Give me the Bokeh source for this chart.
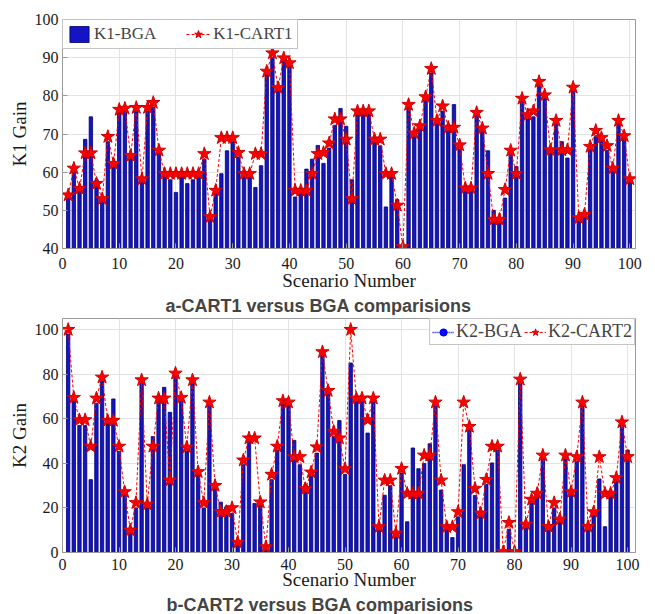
from bokeh.plotting import figure
from bokeh.models import ColumnDataSource, FixedTicker, Legend, LegendItem, Title, Range1d
from bokeh.layouts import column
from bokeh.embed import file_html
from bokeh.resources import INLINE

scenario = list(range(1, 101))

k1_bga = [53.5, 60, 56, 68.6, 74.5, 58, 53, 68, 62, 76,
          76, 64, 77, 58, 76, 77, 65, 59, 58, 54.7,
          59, 57, 58, 59, 63.4, 48, 55, 59.6, 65.6, 68,
          64, 59, 59, 56, 61.7, 86, 90, 82, 89, 88,
          53.5, 55, 60.8, 63.4, 67, 62.3, 66.3, 72.3, 76.7, 72,
          58, 76, 76, 76, 68, 66.9, 50.9, 59, 52.8, 40,
          77, 69.3, 71.5, 78.9, 86, 73, 76, 71, 77.7, 66,
          55, 55, 75, 70.7, 65.6, 50, 47, 53.2, 65, 61.5,
          79, 74, 74.5, 83, 80, 65, 73, 68, 63.7, 82,
          48, 48.5, 66, 69.3, 68.5, 65.7, 60.5, 73, 69, 58]

k1_cart1 = [54, 61, 55.7, 65, 65, 57, 53, 69.3, 62.2, 76.4,
            76.7, 64.3, 76.9, 58.2, 76.9, 78.2, 65.7, 59.6, 59.6, 59.6,
            59.6, 59.6, 59.6, 59.6, 64.8, 48.3, 55.2, 69, 69, 69,
            65.1, 59.6, 59.6, 64.8, 64.8, 86.4, 91.2, 82.1, 89.9, 88.6,
            55.2, 55.2, 55.2, 59.6, 64.8, 65.1, 67.6, 73.9, 73.9, 68.6,
            53, 76, 76, 76, 68.6, 68.6, 59.6, 59.6, 51.3, 40.4,
            77.7, 70.2, 72.1, 79.7, 87.1, 73.5, 77.3, 71.7, 71.7, 67.1,
            55.8, 55.8, 75.6, 71.5, 59.6, 47.6, 47.6, 55.4, 65.7, 59.6,
            79.3, 75, 76, 83.7, 80.2, 65.8, 73.5, 65.8, 65.8, 82.2,
            48, 48.9, 66.7, 70.9, 69, 66.9, 61, 73.5, 69.5, 58.2]

k2_bga = [98, 68, 57, 57, 32.7, 67, 77, 58, 68.9, 45.4,
          26, 9, 20, 76, 20, 52, 68, 74.1, 62.9, 79,
          68, 45.4, 76, 35, 20, 67, 29, 22.6, 20.5, 17.6,
          4, 39.4, 49.9, 22, 22, 2, 32.7, 45.8, 67, 67,
          50.3, 39.4, 30.5, 34.2, 44.6, 89, 72, 52, 59.2, 35,
          85, 68, 68, 53.6, 68, 10, 25.7, 30, 8, 35.7,
          13.8, 46.9, 37.6, 39.9, 48.8, 66, 28, 11, 6.7, 16,
          39.4, 55, 25.6, 16, 30.5, 40.2, 46, 0, 10.4, 0,
          76, 11, 22.3, 25, 42, 10, 20, 14, 42, 26,
          41, 66, 10, 17, 33, 11.6, 25, 32, 57, 46]

k2_cart2 = [100, 69.5, 59.5, 59.5, 47.6, 69.2, 78.6, 59.2, 59.2, 47.6,
            27.2, 10, 22.3, 77.4, 21.6, 47.6, 69.2, 69.2, 32.4, 80.4,
            69.5, 47.2, 77.4, 36.2, 22.3, 67.4, 30, 18.3, 18.3, 20,
            4.5, 41.4, 51.3, 51.3, 22.6, 2.5, 35, 47.6, 68, 67.4,
            42.9, 42.9, 28.6, 36, 47.3, 90, 72.6, 54.3, 51.3, 37.5,
            100, 69.2, 69.2, 59.5, 69.2, 11.5, 32.4, 32.4, 8.6, 37.6,
            26.5, 26.5, 26.5, 43.6, 43.6, 67.4, 32.4, 11.5, 11.5, 18.2,
            67.4, 56.5, 28.7, 17.6, 32.7, 47.6, 47.6, 0.3, 13.4, 0.3,
            77.7, 12.6, 23.8, 26.5, 43.6, 11.6, 22.3, 14.9, 43.6, 27.2,
            42.9, 67.4, 11.6, 18.2, 42.9, 26.5, 26.5, 33.5, 58.5, 42.9]

x_ticks = [0, 10, 20, 30, 40, 50, 60, 70, 80, 90, 100]
y1_ticks = [40, 50, 60, 70, 80, 90, 100]
y2_ticks = [0, 20, 40, 60, 80, 100]

SERIF = "Liberation Serif"
BAR_FILL = "#1414c4"
BAR_LINE = "#00006e"
NAN = float("nan")


def style(p, yticks, ylabel, tick_standoff, label_standoff):
    p.xaxis.ticker = FixedTicker(ticks=x_ticks)
    p.yaxis.ticker = FixedTicker(ticks=yticks)
    p.xgrid.ticker = FixedTicker(ticks=x_ticks)
    p.ygrid.ticker = FixedTicker(ticks=yticks)
    p.grid.grid_line_color = "#e3e3e3"
    p.grid.grid_line_width = 1
    for ax in p.axis:
        ax.axis_line_color = "#9a9a9a"
        ax.major_tick_line_color = "#9a9a9a"
        ax.major_tick_in = 5
        ax.major_tick_out = 0
        ax.minor_tick_line_color = None
        ax.major_label_text_font = SERIF
        ax.major_label_text_font_size = "16px"
        ax.major_label_text_color = "#1a1a1a"
        ax.axis_label_text_font = SERIF
        ax.axis_label_text_font_size = "19px"
        ax.axis_label_text_font_style = "normal"
        ax.axis_label_text_color = "#1a1a1a"
    p.xaxis.axis_label = "Scenario Number"
    p.yaxis.axis_label = ylabel
    p.xaxis.major_label_standoff = tick_standoff
    p.xaxis.axis_label_standoff = label_standoff
    p.yaxis.major_label_standoff = 4
    p.yaxis.axis_label_standoff = 2
    p.outline_line_color = "#9a9a9a"
    p.outline_line_width = 1


# ---------------- top panel ----------------
src1 = ColumnDataSource(dict(x=scenario, bga=k1_bga, cart=k1_cart1))
p1 = figure(width=655, height=315, output_backend="svg", toolbar_location=None,
            x_range=Range1d(0, 101), y_range=Range1d(40, 100),
            min_border_left=62, min_border_right=20, min_border_top=19, min_border_bottom=66)
b1 = p1.vbar(x="x", top="bga", bottom=0, width=0.6, source=src1,
             fill_color=BAR_FILL, line_color=BAR_LINE, line_width=0.8)
l1 = p1.line(x="x", y="cart", source=src1, line_color="red", line_dash="3 2", line_width=1)
s1 = p1.scatter(x="x", y="cart", source=src1, marker="star", size=14,
                fill_color="red", line_color="#d00000")
style(p1, y1_ticks, "K1 Gain", 9, -2)
leg1 = Legend(items=[LegendItem(label="K1-BGA", renderers=[b1]),
                     LegendItem(label="K1-CART1", renderers=[l1, s1])],
              location="top_left", orientation="horizontal", margin=0, padding=4,
              spacing=30, label_standoff=3, glyph_width=24, glyph_height=20,
              label_text_font=SERIF, label_text_font_size="17px",
              border_line_color="#8a8a8a", background_fill_alpha=1)
p1.add_layout(leg1)
t1 = Title(text="a-CART1 versus BGA comparisions", text_font="Liberation Sans",
           text_font_style="bold", text_font_size="18px", align="left", offset=103,
           standoff=0)
p1.add_layout(t1, "below")

# ---------------- bottom panel ----------------
src2 = ColumnDataSource(dict(x=scenario, bga=k2_bga, cart=k2_cart2))
proxy = ColumnDataSource(dict(x=[NAN], y=[NAN]))
p2 = figure(width=655, height=299, output_backend="svg", toolbar_location=None,
            x_range=Range1d(0, 101.4), y_range=Range1d(0, 105),
            min_border_left=58, min_border_right=19, min_border_top=3, min_border_bottom=61)
p2.vbar(x="x", top="bga", bottom=0, width=0.6, source=src2,
        fill_color=BAR_FILL, line_color=BAR_LINE, line_width=0.8)
l2 = p2.line(x="x", y="cart", source=src2, line_color="red", line_dash="3 2", line_width=1)
s2 = p2.scatter(x="x", y="cart", source=src2, marker="star", size=14,
                fill_color="red", line_color="#d00000")
pl = p2.line(x="x", y="y", source=proxy, line_color="blue", line_dash="1 1", line_width=1.5)
pd = p2.scatter(x="x", y="y", source=proxy, marker="circle", size=6,
                fill_color="blue", line_color="blue")
style(p2, y2_ticks, "K2 Gain", 6, -4)
leg2 = Legend(items=[LegendItem(label="K2-BGA", renderers=[pl, pd]),
                     LegendItem(label="K2-CART2", renderers=[l2, s2])],
              location="top_right", orientation="horizontal", margin=0, padding=2,
              spacing=2, label_standoff=2, glyph_width=22, glyph_height=18,
              label_text_font=SERIF, label_text_font_size="18px",
              border_line_color="#8a8a8a", background_fill_alpha=1)
p2.add_layout(leg2)
t2 = Title(text="b-CART2 versus BGA comparisions", text_font="Liberation Sans",
           text_font_style="bold", text_font_size="18px", align="left", offset=104,
           standoff=0)
p2.add_layout(t2, "below")

layout = column(p1, p2, spacing=0)
open("out.html", "w").write(file_html(layout, INLINE))
